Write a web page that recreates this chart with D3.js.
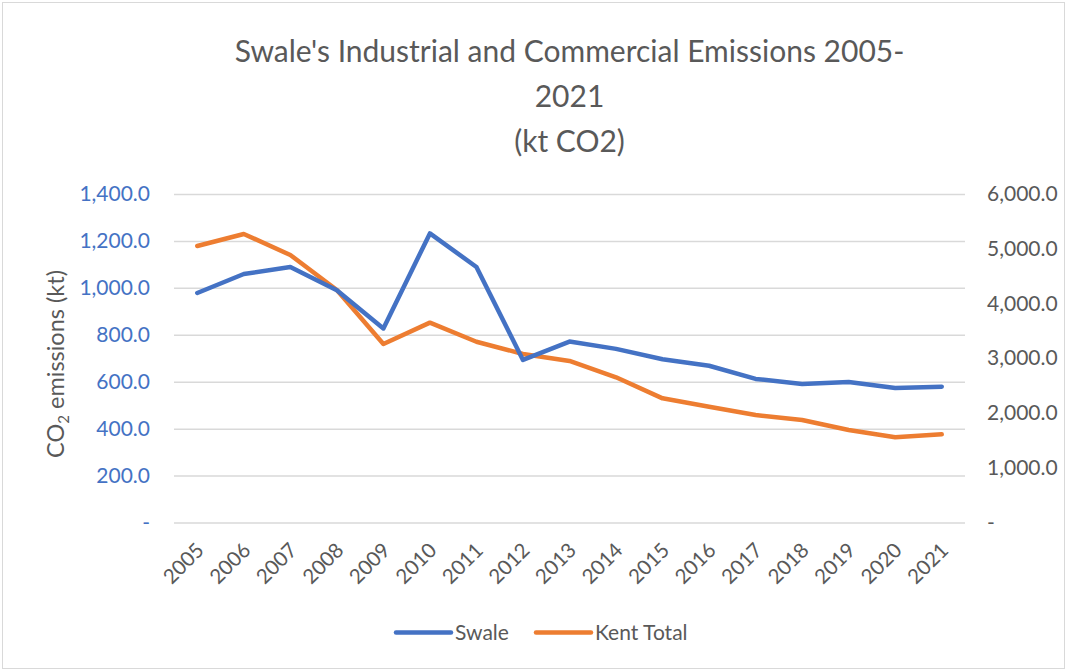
<!DOCTYPE html>
<html>
<head>
<meta charset="utf-8">
<script src="https://cdn.jsdelivr.net/npm/d3@7"></script>
<style>
  body { margin: 0; background: #fff; }
  text { font-family: Lato, "Open Sans", sans-serif; }
</style>
</head>
<body>
<div class="chart"></div>
<script>
const years = ["2005","2006","2007","2008","2009","2010","2011","2012","2013","2014","2015","2016","2017","2018","2019","2020","2021"];
const swale = [978, 1059, 1089, 990, 827, 1232, 1089, 693, 771, 740, 696, 668, 612, 590, 599, 573, 579];
const kentTotal = [5050, 5270, 4886, 4247, 3260, 3650, 3302, 3078, 2950, 2652, 2268, 2115, 1963, 1872, 1689, 1556, 1611];
const leftTicks = [0, 200, 400, 600, 800, 1000, 1200, 1400];
const rightTicks = [0, 1000, 2000, 3000, 4000, 5000, 6000];
const titleLines = ["Swale's Industrial and Commercial Emissions 2005-", "2021", "(kt CO2)"];

const W = 1067, H = 671;
const margin = { top: 194, right: 102, bottom: 148.5, left: 174 };
const width = W - margin.left - margin.right;
const height = H - margin.top - margin.bottom;

const svgRoot = d3.select(".chart").append("svg")
  .attr("width", W)
  .attr("height", H);

// outer chart border
svgRoot.append("rect")
  .attr("x", 2.5).attr("y", 2.5)
  .attr("width", W - 5).attr("height", H - 5)
  .attr("fill", "#fff")
  .attr("stroke", "#d9d9d9");

// title
svgRoot.append("g").selectAll("text")
  .data(titleLines)
  .enter().append("text")
  .attr("x", (margin.left + W - margin.right) / 2)
  .attr("y", (d, i) => 62 + i * 45)
  .attr("text-anchor", "middle")
  .attr("font-size", 30)
  .attr("fill", "#595959")
  .text(d => d);

const svg = svgRoot.append("g")
  .attr("transform", `translate(${margin.left},${margin.top})`);

const x = d3.scaleBand()
  .domain(years)
  .range([0, width]);

const yL = d3.scaleLinear().domain([0, 1400]).range([height, 0]);
const yR = d3.scaleLinear().domain([0, 6000]).range([height, 0]);

const fmt = v => v === 0 ? "-" : d3.format(",.1f")(v);

// gridlines
svg.append("g")
  .call(d3.axisLeft(yL).tickValues(leftTicks).tickSize(-width).tickFormat(""))
  .call(g => g.select(".domain").remove())
  .call(g => g.selectAll("line").attr("stroke", "#d9d9d9").attr("stroke-width", 1.5));

// left axis
svg.append("g")
  .call(d3.axisLeft(yL).tickValues(leftTicks).tickSize(0).tickPadding(24).tickFormat(fmt))
  .call(g => g.select(".domain").remove())
  .call(g => g.selectAll("text")
    .attr("font-size", 21)
    .attr("font-family", "Lato, sans-serif")
    .attr("fill", "#4472c4"));

// right axis
svg.append("g")
  .attr("transform", `translate(${width},0)`)
  .call(d3.axisRight(yR).tickValues(rightTicks).tickSize(0).tickPadding(22).tickFormat(fmt))
  .call(g => g.select(".domain").remove())
  .call(g => g.selectAll("text")
    .attr("font-size", 21)
    .attr("font-family", "Lato, sans-serif")
    .attr("fill", "#595959"));

// x axis
svg.append("g")
  .attr("transform", `translate(0,${height})`)
  .call(d3.axisBottom(x).tickSize(0).tickPadding(0))
  .call(g => g.select(".domain").remove())
  .call(g => g.selectAll("text")
    .attr("font-size", 20.5)
    .attr("font-family", "Lato, sans-serif")
    .attr("fill", "#595959")
    .attr("text-anchor", "end")
    .attr("dy", null)
    .attr("y", 0)
    .attr("transform", "translate(8,29) rotate(-45)"));

// axis title with subscript
const yTitle = svg.append("text")
  .attr("transform", `translate(${64 - margin.left},${364 - margin.top}) rotate(-90)`)
  .attr("text-anchor", "middle")
  .attr("font-size", 23.5)
  .attr("fill", "#595959");
yTitle.append("tspan").text("CO");
yTitle.append("tspan").attr("font-size", 15).attr("dy", 5).text("2");
yTitle.append("tspan").attr("dy", -5).text(" emissions (kt)");

const cx = d => x(d) + x.bandwidth() / 2;

svg.append("path")
  .datum(kentTotal)
  .attr("fill", "none")
  .attr("stroke", "#ed7d31")
  .attr("stroke-width", 4.5)
  .attr("stroke-linejoin", "round")
  .attr("stroke-linecap", "round")
  .attr("d", d3.line().x((d, i) => cx(years[i])).y(d => yR(d)));

svg.append("path")
  .datum(swale)
  .attr("fill", "none")
  .attr("stroke", "#4472c4")
  .attr("stroke-width", 4.5)
  .attr("stroke-linejoin", "round")
  .attr("stroke-linecap", "round")
  .attr("d", d3.line().x((d, i) => cx(years[i])).y(d => yL(d)));

// legend
const legendItems = [
  { name: "Swale", color: "#4472c4", x: 396 },
  { name: "Kent Total", color: "#ed7d31", x: 536 }
];
const legend = svgRoot.append("g");
legend.selectAll("line")
  .data(legendItems)
  .enter().append("line")
  .attr("x1", d => d.x).attr("x2", d => d.x + 55)
  .attr("y1", 632.5).attr("y2", 632.5)
  .attr("stroke", d => d.color)
  .attr("stroke-width", 4.5)
  .attr("stroke-linecap", "round");
legend.selectAll("text")
  .data(legendItems)
  .enter().append("text")
  .attr("x", d => d.x + 59)
  .attr("y", 640)
  .attr("font-size", 21)
  .attr("fill", "#595959")
  .text(d => d.name);
</script>
</body>
</html>
